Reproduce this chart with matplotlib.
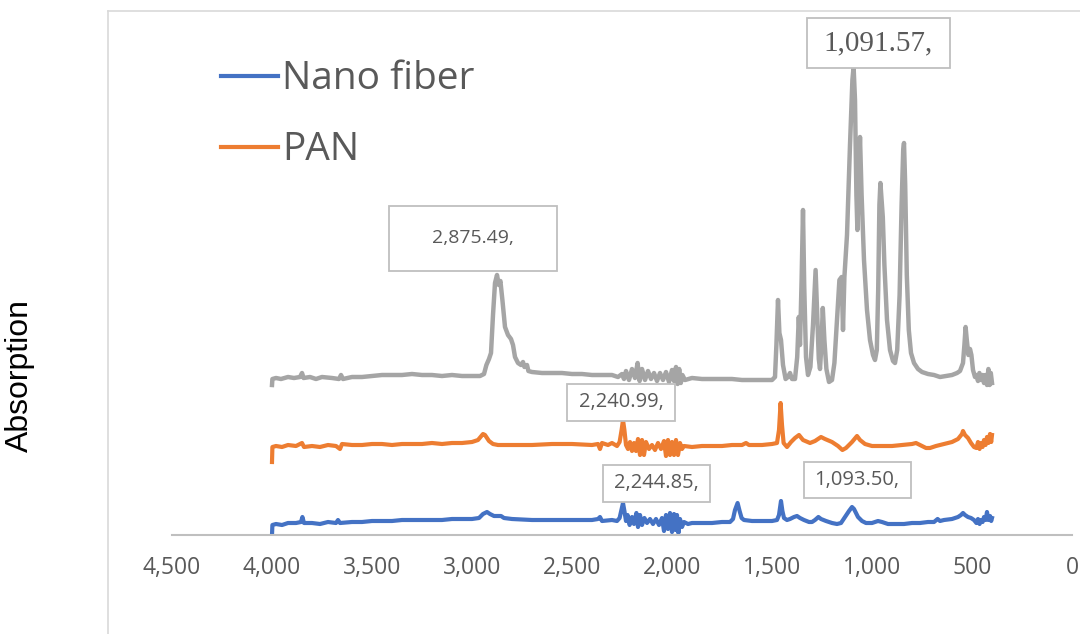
import matplotlib
matplotlib.use("Agg")
import matplotlib.pyplot as plt
from matplotlib.lines import Line2D
from matplotlib.patches import Rectangle
from matplotlib.transforms import ScaledTranslation
from matplotlib.ticker import FuncFormatter

# FTIR spectra (wavenumber cm-1, stacked absorption)
gray_wn = [4000, 3998, 3980, 3955, 3920, 3890, 3860, 3850, 3842, 3810, 3780, 3750, 3700, 3665, 3655, 3645,
           3600, 3550, 3500, 3450, 3400, 3350, 3300, 3250, 3200, 3150, 3100, 3050, 3000, 2960, 2940, 2928,
           2915, 2905, 2895, 2885, 2875, 2866, 2858, 2848, 2835, 2820, 2805, 2795, 2785, 2770, 2755, 2745,
           2738, 2725, 2718, 2700, 2650, 2600, 2550, 2500, 2450, 2400, 2350, 2300, 2270, 2250, 2240, 2230,
           2215, 2200, 2185, 2172, 2162, 2150, 2135, 2120, 2105, 2090, 2075, 2060, 2045, 2030, 2015, 2000,
           1990, 1980, 1972, 1964, 1956, 1948, 1935, 1900, 1850, 1800, 1750, 1700, 1650, 1600, 1550, 1500,
           1485, 1478, 1470, 1463, 1455, 1445, 1432, 1420, 1410, 1400, 1385, 1374, 1366, 1360, 1352, 1345,
           1339, 1330, 1320, 1308, 1295, 1282, 1274, 1266, 1260, 1253, 1246, 1238, 1228, 1215, 1200, 1188,
           1175, 1163, 1152, 1145, 1138, 1125, 1110, 1098, 1092, 1085, 1078, 1073, 1066, 1060, 1052, 1040,
           1025, 1010, 995, 985, 976, 969, 963, 958, 952, 946, 938, 925, 910, 895, 885, 874,
           862, 852, 844, 840, 834, 826, 816, 805, 790, 770, 750, 720, 690, 660, 630, 600,
           575, 560, 545, 538, 532, 526, 518, 510, 503, 495, 485, 478, 470, 463, 455, 447,
           440, 432, 425, 418, 412, 406, 400]
gray_abs = [1.50, 1.56, 1.57, 1.56, 1.58, 1.57, 1.58, 1.62, 1.57, 1.58, 1.56, 1.58, 1.57, 1.56, 1.60, 1.56,
            1.58, 1.58, 1.59, 1.60, 1.60, 1.60, 1.61, 1.60, 1.60, 1.59, 1.60, 1.59, 1.59, 1.59, 1.61, 1.70,
            1.76, 1.82, 2.20, 2.52, 2.60, 2.50, 2.54, 2.35, 2.08, 2.00, 1.96, 1.90, 1.78, 1.72, 1.70, 1.73,
            1.68, 1.70, 1.64, 1.63, 1.62, 1.62, 1.62, 1.61, 1.61, 1.60, 1.60, 1.60, 1.58, 1.61, 1.56, 1.64,
            1.55, 1.66, 1.57, 1.72, 1.54, 1.66, 1.55, 1.64, 1.56, 1.62, 1.54, 1.62, 1.55, 1.63, 1.53, 1.65,
            1.54, 1.68, 1.51, 1.66, 1.52, 1.60, 1.55, 1.57, 1.56, 1.56, 1.56, 1.56, 1.55, 1.55, 1.55, 1.55,
            1.58, 1.90, 2.35, 2.02, 1.95, 1.70, 1.56, 1.58, 1.62, 1.56, 1.56, 1.78, 2.18, 1.90, 2.55, 3.25,
            2.50, 1.78, 1.60, 1.68, 2.10, 2.65, 2.20, 1.76, 1.66, 1.90, 2.27, 1.95, 1.66, 1.53, 1.55, 1.72,
            2.15, 2.55, 2.58, 2.05, 2.58, 3.00, 3.90, 4.55, 4.68, 4.35, 3.40, 3.05, 3.55, 3.98, 3.40, 2.75,
            2.25, 1.95, 1.80, 1.75, 1.85, 2.45, 3.30, 3.52, 3.35, 3.18, 2.70, 2.15, 1.85, 1.74, 1.72, 1.85,
            2.40, 3.30, 3.85, 3.92, 3.50, 2.60, 2.05, 1.82, 1.72, 1.66, 1.63, 1.61, 1.60, 1.58, 1.59, 1.60,
            1.62, 1.64, 1.72, 1.90, 2.08, 1.95, 1.80, 1.86, 1.80, 1.65, 1.58, 1.60, 1.54, 1.62, 1.55, 1.60,
            1.52, 1.60, 1.50, 1.66, 1.50, 1.62, 1.52]

pan_wn = [4000, 3998, 3980, 3950, 3920, 3880, 3850, 3840, 3800, 3760, 3720, 3680, 3660, 3650, 3600, 3550,
          3500, 3450, 3400, 3350, 3300, 3250, 3200, 3150, 3100, 3050, 3000, 2970, 2945, 2935, 2915, 2895,
          2870, 2800, 2700, 2600, 2500, 2400, 2370, 2360, 2350, 2320, 2300, 2275, 2262, 2252, 2245, 2238,
          2230, 2220, 2210, 2200, 2190, 2180, 2170, 2160, 2150, 2140, 2130, 2115, 2100, 2085, 2070, 2055,
          2040, 2030, 2020, 2010, 2000, 1990, 1980, 1970, 1960, 1950, 1940, 1900, 1850, 1800, 1750, 1700,
          1650, 1630, 1615, 1550, 1500, 1475, 1465, 1457, 1450, 1442, 1425, 1405, 1385, 1365, 1345, 1310,
          1285, 1255, 1235, 1200, 1170, 1148, 1130, 1100, 1075, 1060, 1035, 1000, 950, 900, 850, 800,
          780, 760, 730, 710, 680, 640, 600, 570, 550, 545, 535, 520, 505, 490, 478, 470,
          462, 455, 447, 440, 432, 425, 418, 410, 404, 400]
pan_abs = [0.73, 0.88, 0.89, 0.88, 0.90, 0.89, 0.92, 0.88, 0.89, 0.88, 0.90, 0.89, 0.86, 0.91, 0.90, 0.90,
           0.91, 0.91, 0.90, 0.91, 0.91, 0.91, 0.92, 0.91, 0.92, 0.92, 0.93, 0.95, 1.01, 1.00, 0.94, 0.91,
           0.90, 0.90, 0.90, 0.91, 0.91, 0.90, 0.91, 0.86, 0.92, 0.90, 0.92, 0.89, 0.93, 1.05, 1.15, 1.05,
           0.90, 0.86, 0.93, 0.84, 0.92, 0.84, 0.96, 0.80, 0.95, 0.80, 0.93, 0.86, 0.90, 0.85, 0.92, 0.86,
           0.94, 0.79, 0.95, 0.80, 0.93, 0.80, 0.95, 0.80, 0.92, 0.86, 0.89, 0.88, 0.89, 0.89, 0.89, 0.90,
           0.90, 0.92, 0.90, 0.90, 0.91, 0.92, 1.05, 1.32, 1.10, 0.92, 0.88, 0.93, 0.97, 1.00, 0.95, 0.92,
           0.94, 0.98, 0.96, 0.93, 0.89, 0.85, 0.87, 0.93, 0.99, 0.95, 0.91, 0.89, 0.89, 0.89, 0.90, 0.91,
           0.92, 0.90, 0.87, 0.87, 0.89, 0.91, 0.93, 0.96, 1.01, 1.04, 1.00, 0.97, 0.92, 0.88, 0.87, 0.93,
           0.86, 0.92, 0.88, 0.95, 0.90, 0.98, 0.92, 1.01, 0.93, 1.00]

nano_wn = [4000, 3998, 3980, 3950, 3920, 3880, 3855, 3848, 3840, 3800, 3760, 3720, 3680, 3670, 3660, 3600,
           3550, 3500, 3450, 3400, 3350, 3300, 3250, 3200, 3150, 3100, 3050, 3000, 2965, 2945, 2925, 2910,
           2890, 2870, 2855, 2840, 2800, 2700, 2600, 2500, 2400, 2370, 2360, 2350, 2300, 2275, 2262, 2253,
           2245, 2238, 2230, 2222, 2212, 2200, 2190, 2178, 2170, 2160, 2150, 2138, 2125, 2110, 2095, 2080,
           2065, 2050, 2040, 2030, 2020, 2010, 2000, 1990, 1982, 1975, 1968, 1960, 1950, 1940, 1920, 1900,
           1850, 1800, 1750, 1710, 1695, 1685, 1672, 1662, 1652, 1640, 1600, 1550, 1500, 1475, 1465, 1455,
           1448, 1440, 1425, 1410, 1390, 1375, 1360, 1340, 1315, 1300, 1285, 1268, 1255, 1230, 1200, 1175,
           1155, 1135, 1115, 1100, 1090, 1070, 1050, 1030, 1000, 970, 950, 920, 880, 840, 800, 760,
           720, 690, 672, 660, 640, 600, 570, 555, 545, 535, 520, 505, 490, 478, 470, 462,
           455, 447, 440, 432, 425, 418, 410, 404, 400]
nano_abs = [0.00, 0.10, 0.11, 0.10, 0.12, 0.12, 0.13, 0.18, 0.12, 0.12, 0.11, 0.13, 0.12, 0.15, 0.12, 0.13,
            0.13, 0.14, 0.14, 0.14, 0.15, 0.15, 0.15, 0.15, 0.15, 0.16, 0.16, 0.16, 0.17, 0.21, 0.23, 0.21,
            0.19, 0.19, 0.19, 0.17, 0.16, 0.15, 0.15, 0.15, 0.15, 0.16, 0.18, 0.14, 0.15, 0.14, 0.17, 0.25,
            0.32, 0.24, 0.14, 0.20, 0.10, 0.18, 0.11, 0.22, 0.08, 0.20, 0.10, 0.17, 0.12, 0.16, 0.11, 0.16,
            0.10, 0.17, 0.04, 0.20, 0.06, 0.22, 0.03, 0.21, 0.05, 0.20, 0.02, 0.16, 0.08, 0.13, 0.11, 0.12,
            0.12, 0.12, 0.13, 0.13, 0.16, 0.25, 0.32, 0.24, 0.17, 0.15, 0.14, 0.14, 0.14, 0.15, 0.20, 0.34,
            0.24, 0.17, 0.15, 0.16, 0.18, 0.19, 0.17, 0.15, 0.13, 0.13, 0.15, 0.18, 0.16, 0.14, 0.12, 0.11,
            0.12, 0.18, 0.24, 0.28, 0.26, 0.18, 0.14, 0.12, 0.12, 0.14, 0.13, 0.11, 0.11, 0.11, 0.12, 0.12,
            0.13, 0.13, 0.16, 0.14, 0.15, 0.16, 0.18, 0.20, 0.22, 0.20, 0.18, 0.17, 0.15, 0.12, 0.16, 0.11,
            0.15, 0.13, 0.18, 0.15, 0.23, 0.15, 0.19, 0.14, 0.17]

x_ticks = [4500, 4000, 3500, 3000, 2500, 2000, 1500, 1000, 500, 0]

# peak labels: text, anchor (wavenumber, absorption), box size px, font size, family
peak_labels = [
    ("2,875.49,", 2995, 2.97, 168, 65, 14, "Open Sans"),
    ("1,091.57,", 970, 4.92, 143, 50, 21, "Liberation Serif"),
    ("2,240.99,", 2255, 1.33, 108, 37, 14.5, "Open Sans"),
    ("2,244.85,", 2080, 0.52, 107, 37, 14.5, "Open Sans"),
    ("1,093.50,", 1075, 0.55, 107, 36, 14.5, "Open Sans"),
]

blue = '#4472C4'
orange = '#ED7D31'
gray = '#A5A5A5'
text_col = '#595959'

fig = plt.figure(figsize=(10.8, 6.34), dpi=100)
ax = fig.add_axes([172 / 1080, 1 - 535 / 634, 900 / 1080, 515 / 634])

ax.plot(nano_wn, nano_abs, color=blue, lw=3.0, solid_joinstyle='round', label='Nano fiber')
ax.plot(pan_wn, pan_abs, color=orange, lw=3.0, solid_joinstyle='round', label='PAN')
ax.plot(gray_wn, gray_abs, color=gray, lw=3.2, solid_joinstyle='round', label='_nolegend_')

ax.set_xlim(4500, 0)
ax.set_ylim(0, 5.15)
ax.set_xticks(x_ticks)
ax.xaxis.set_major_formatter(FuncFormatter(lambda v, p: f"{int(v):,}"))
ax.set_yticks([])
ax.tick_params(axis='x', length=0, pad=15, labelsize=16.5, labelcolor=text_col)
for lbl in ax.get_xticklabels():
    lbl.set_fontfamily('Open Sans')
for s in ['top', 'right', 'left']:
    ax.spines[s].set_visible(False)
ax.spines['bottom'].set_color('#BFBFBF')
ax.spines['bottom'].set_linewidth(1.5)
ax.patch.set_alpha(0)

for text, wn, val, w, h, size, fam in peak_labels:
    trans = fig.dpi_scale_trans + ScaledTranslation(wn, val, ax.transData)
    ax.add_patch(Rectangle((-w / 200, -h / 200), w / 100, h / 100, transform=trans,
                           facecolor='white', edgecolor='#BFBFBF', lw=1.3, zorder=5, clip_on=False))
    ax.text(wn, val, text, ha='center', va='center', fontsize=size, family=fam,
            color=text_col, zorder=6)

leg = ax.legend(loc='upper left', bbox_to_anchor=(202 / 1080, 1 - 41 / 634),
                bbox_transform=fig.transFigure, frameon=False, borderpad=0,
                handlelength=1.45, handletextpad=0.12, labelspacing=0.85,
                prop={'family': 'Open Sans', 'size': 28})
for t in leg.get_texts():
    t.set_color(text_col)
for h in leg.get_lines():
    h.set_linewidth(3.0)

fig.text(20 / 1080, 1 - 376 / 634, 'Absorption', rotation=90, ha='center', va='center',
         fontsize=23, family='Liberation Sans', color='black')

# chart area outline
fig.add_artist(Line2D([108 / 1080, 108 / 1080], [0, 1 - 11 / 634], color='#D9D9D9', lw=1.2))
fig.add_artist(Line2D([108 / 1080, 1], [1 - 11 / 634, 1 - 11 / 634], color='#D9D9D9', lw=1.2))

fig.savefig('out.png', dpi=100)
